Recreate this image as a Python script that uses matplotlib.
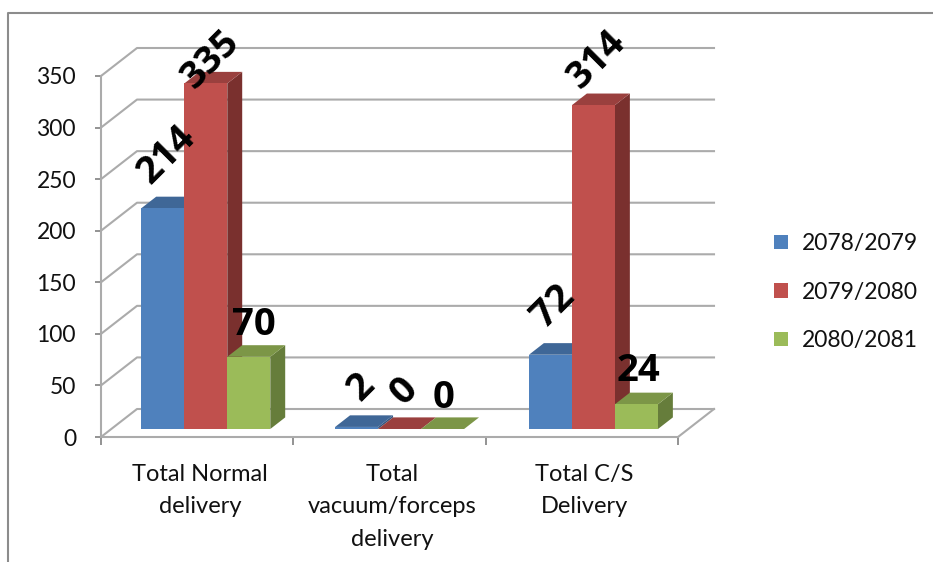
import matplotlib
matplotlib.use("Agg")
import matplotlib.pyplot as plt
from matplotlib.lines import Line2D
from matplotlib.patches import Polygon

categories = ["Total Normal\ndelivery", "Total\nvacuum/forceps\ndelivery", "Total C/S\nDelivery"]
years = ["2078/2079", "2079/2080", "2080/2081"]
values_a = [214, 2, 72]
values_b = [335, 0, 314]
values_c = [70, 0, 24]
yticks = [0, 50, 100, 150, 200, 250, 300, 350]

front_cols = ["#4F81BD", "#C0504D", "#9BBB59"]
top_cols = ["#3F6797", "#9A403E", "#7C9647"]
side_cols = ["#355780", "#7A302E", "#667D3B"]
grid_col = "#ABABAB"

# label offsets from bar top centre in px, and rotation
offs = [[(4, 54), (5, 24), (5, 32)],
        [(5, 40), (5, 38), (1, 31)],
        [(3, 48), (3, 45), (2, 33)]]
rots = [[45, 45, 0], [45, 45, 0], [45, 45, 0]]

W, H = 933, 562
plt.rcParams["font.family"] = ["Lato", "DejaVu Sans"]
fig = plt.figure(figsize=(W / 100, H / 100), dpi=100)

left, right, top, bottom = 101, 678, 76, 437
ax = fig.add_axes([left / W, 1 - bottom / H, (right - left) / W, (bottom - top) / H])
ax.set_xlim(0, 3)
ax.set_ylim(0, 350)
ax.patch.set_alpha(0)

px_x = (right - left) / 3
px_y = (bottom - top) / 350
DX = 36 / px_x
DY = 28 / px_y


# fake 3d: d is depth, 0 front of floor and 1 back wall
def pt(x, y, d):
    return (x + DX * d, y + DY * d)


# walls
for v in yticks:
    ax.plot([0, DX, 3 + DX], [v, v + DY, v + DY], color=grid_col, lw=1.5, clip_on=False, zorder=1)
ax.plot([3 + DX, 3], [DY, 0], color=grid_col, lw=1.5, clip_on=False, zorder=1)

# bars
bw = 43 / px_x
step = 1.0078
x_off = 30 / px_x
d0 = 0.286
d1 = 0.70
series = [values_a, values_b, values_c]
for c in range(3):
    for s in range(3):
        val = series[s][c]
        x0 = c * step + x_off + s * bw
        x1 = x0 + bw
        z = 3 + c + s * 0.1
        side = [pt(x1, 0, d0), pt(x1, val, d0), pt(x1, val, d1), pt(x1, 0, d1)]
        topf = [pt(x0, val, d0), pt(x1, val, d0), pt(x1, val, d1), pt(x0, val, d1)]
        front = [pt(x0, 0, d0), pt(x1, 0, d0), pt(x1, val, d0), pt(x0, val, d0)]
        if val > 0:
            ax.add_patch(Polygon(side, closed=True, fc=side_cols[s], ec="none", zorder=z, clip_on=False))
        ax.add_patch(Polygon(topf, closed=True, fc=top_cols[s], ec="none", zorder=z, clip_on=False))
        if val > 0:
            ax.add_patch(Polygon(front, closed=True, fc=front_cols[s], ec="none", zorder=z, clip_on=False))
        cx, cy = pt((x0 + x1) / 2, val, d0)
        ax.annotate(str(val), (cx, cy), xytext=(offs[c][s][0] * 0.72, offs[c][s][1] * 0.72),
                    textcoords="offset points", ha="center", va="center", rotation=rots[c][s],
                    rotation_mode="anchor", fontsize=27.5, fontweight="bold", color="black",
                    family="Open Sans", zorder=10, annotation_clip=False)

# axes
for sp in ["top", "right"]:
    ax.spines[sp].set_visible(False)
for sp in ["left", "bottom"]:
    ax.spines[sp].set_color(grid_col)
    ax.spines[sp].set_linewidth(1.5)
ax.set_yticks(yticks)
ax.set_xticks([0, 1, 2, 3])
ax.set_xticklabels([])
ax.set_xticks([0.515, 1.515, 2.515], minor=True)
ax.set_xticklabels(categories, minor=True, fontsize=17, linespacing=1.67, color="#111111")
ax.tick_params(axis="y", colors="#111111", labelsize=16.5, length=4, width=1.2, color="#808080", pad=14)
ax.tick_params(axis="x", which="major", length=6, width=1.2, color="#808080")
ax.tick_params(axis="x", which="minor", length=0, pad=19.5)

# legend
handles = [Polygon([(0, 0)], closed=True, fc=front_cols[i], ec="none") for i in range(3)]
ax.legend(handles, years, loc="center left", bbox_to_anchor=((774 - left) / (right - left), (bottom - 292) / (bottom - top)),
          frameon=False, fontsize=16.5, handlelength=0.62, handleheight=0.62, handletextpad=0.6,
          labelspacing=1.2, borderpad=0, borderaxespad=0, labelcolor="#111111")

# picture border
fig.add_artist(Line2D([8 / W, 8 / W, 1], [0, 1 - 13 / H, 1 - 13 / H], color="#8C8C8C", lw=1.5))

fig.savefig("out.png", dpi=100)
